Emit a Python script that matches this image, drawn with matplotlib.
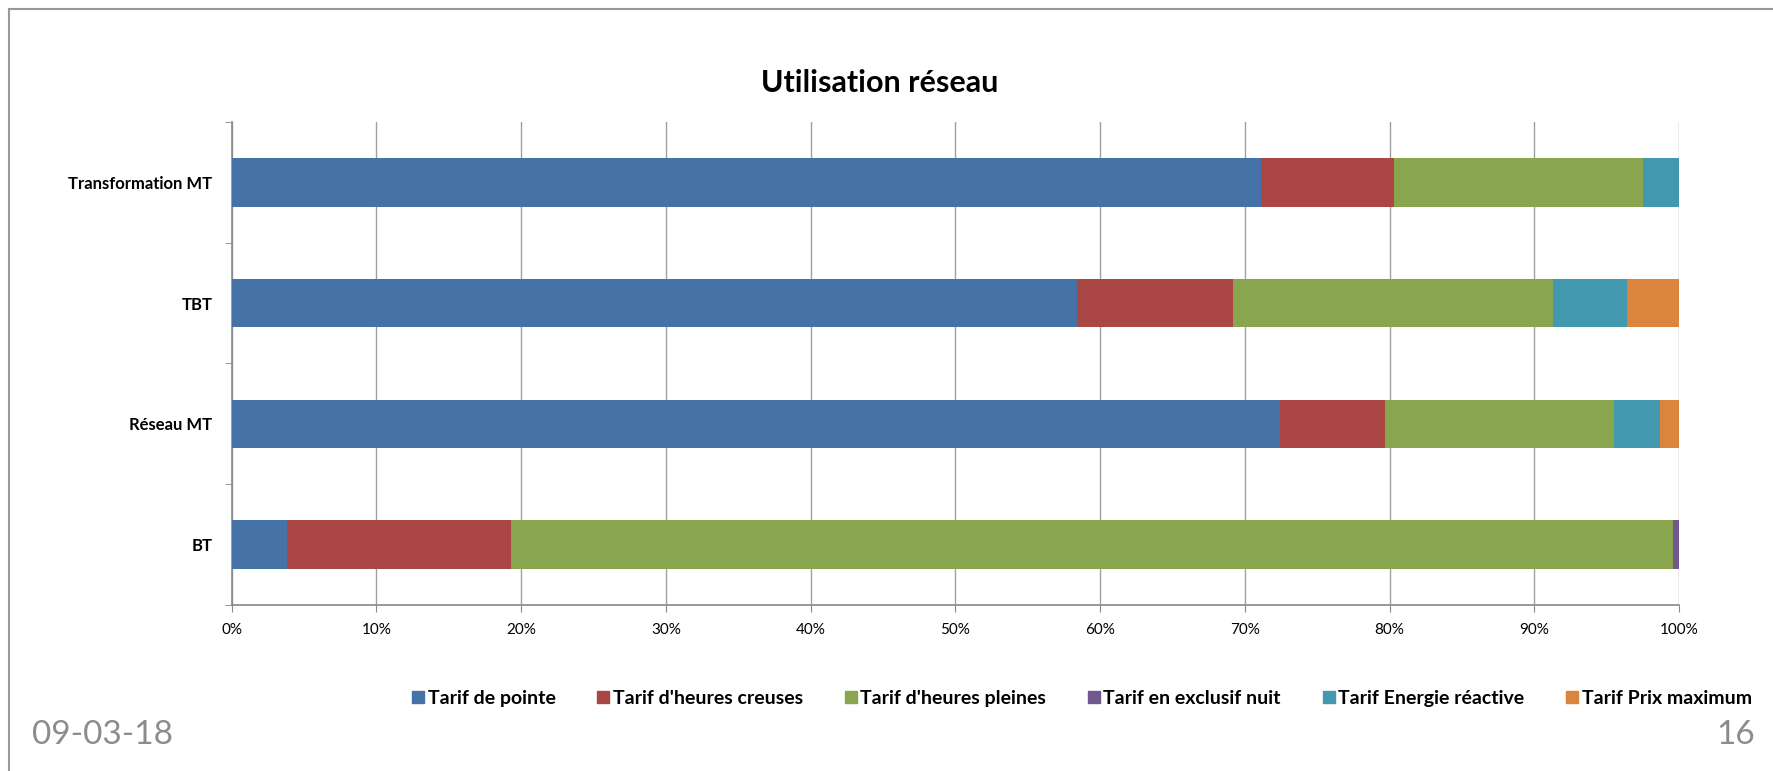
import matplotlib
matplotlib.use("Agg")
import matplotlib.pyplot as plt
from matplotlib.lines import Line2D
from matplotlib.ticker import FuncFormatter, FixedLocator
import numpy as np

plt.rcParams['font.family'] = ['Lato', 'DejaVu Sans']

categories = ["BT", "Réseau MT", "TBT", "Transformation MT"]
series_names = ["Tarif de pointe", "Tarif d'heures creuses", "Tarif d'heures pleines",
                "Tarif en exclusif nuit", "Tarif Energie réactive", "Tarif Prix maximum"]
tarif_pointe = [3.8, 72.4, 58.4, 71.1]
tarif_creuses = [15.5, 7.3, 10.8, 9.2]
tarif_pleines = [80.3, 15.8, 22.1, 17.2]
tarif_nuit = [0.4, 0.0, 0.0, 0.0]
tarif_reactive = [0.0, 3.2, 5.1, 2.5]
tarif_prix_max = [0.0, 1.3, 3.6, 0.0]
colors = ["#4572A7", "#AA4643", "#89A54E", "#71588F", "#4198AF", "#DB843D"]
x_ticks = [0, 10, 20, 30, 40, 50, 60, 70, 80, 90, 100]

series = [tarif_pointe, tarif_creuses, tarif_pleines, tarif_nuit, tarif_reactive, tarif_prix_max]

fig = plt.figure(figsize=(17.73, 7.71), dpi=100)
ax = fig.add_axes([0.1307, 0.2155, 0.947 - 0.1307, 0.8416 - 0.2155])

y = np.arange(len(categories))
left = np.zeros(len(categories))
for vals, c in zip(series, colors):
    v = np.array(vals, dtype=float)
    ax.barh(y, v, left=left, height=0.4, color=c, edgecolor='none', zorder=3)
    left += v

ax.set_xlim(0, 100)
ax.set_ylim(-0.5, len(categories) - 0.5)
ax.set_yticks(y)
ax.set_yticklabels(categories, fontsize=12, fontweight='bold')
ax.yaxis.set_minor_locator(FixedLocator(np.arange(-0.5, len(categories), 1.0)))
ax.tick_params(axis='y', which='major', length=0, pad=14)
ax.tick_params(axis='y', which='minor', length=5, color='#888888')
ax.set_xticks(x_ticks)
ax.xaxis.set_major_formatter(FuncFormatter(lambda v, p: f"{int(v)}%"))
ax.tick_params(axis='x', length=5, color='#888888', labelsize=11, pad=8)
ax.grid(axis='x', color='#A0A0A0', linewidth=1, zorder=0)
for s in ['top', 'right']:
    ax.spines[s].set_visible(False)
for s in ['left', 'bottom']:
    ax.spines[s].set_color('#888888')
    ax.spines[s].set_linewidth(1.2)

fig.text(0.496, 1 - 73 / 682, "Utilisation réseau", ha='center', va='center',
         fontsize=22, fontweight='bold')

handles = [Line2D([0], [0], marker='s', linestyle='none', markersize=9,
                  markerfacecolor=c, markeredgecolor=c) for c in colors]
fig.legend(handles, series_names, loc='center', bbox_to_anchor=(956 / 1568, 1 - 618 / 682),
           ncol=6, frameon=False, prop={'weight': 'bold', 'size': 14},
           handletextpad=0.1, columnspacing=2.05, handlelength=0.8)

fig.text(28 / 1568, 1 - 650 / 682, "09-03-18", ha='left', va='center', fontsize=24, color='#8C8C8C')
fig.text(1552 / 1568, 1 - 650 / 682, "16", ha='right', va='center', fontsize=24, color='#8C8C8C')

# slide frame
fig.add_artist(Line2D([8 / 1568, 8 / 1568], [0, 1 - 8 / 682], transform=fig.transFigure,
                      color='#999999', linewidth=1.5))
fig.add_artist(Line2D([8 / 1568, 1], [1 - 8 / 682, 1 - 8 / 682], transform=fig.transFigure,
                      color='#999999', linewidth=1.5))

fig.savefig("out.png", dpi=100)
